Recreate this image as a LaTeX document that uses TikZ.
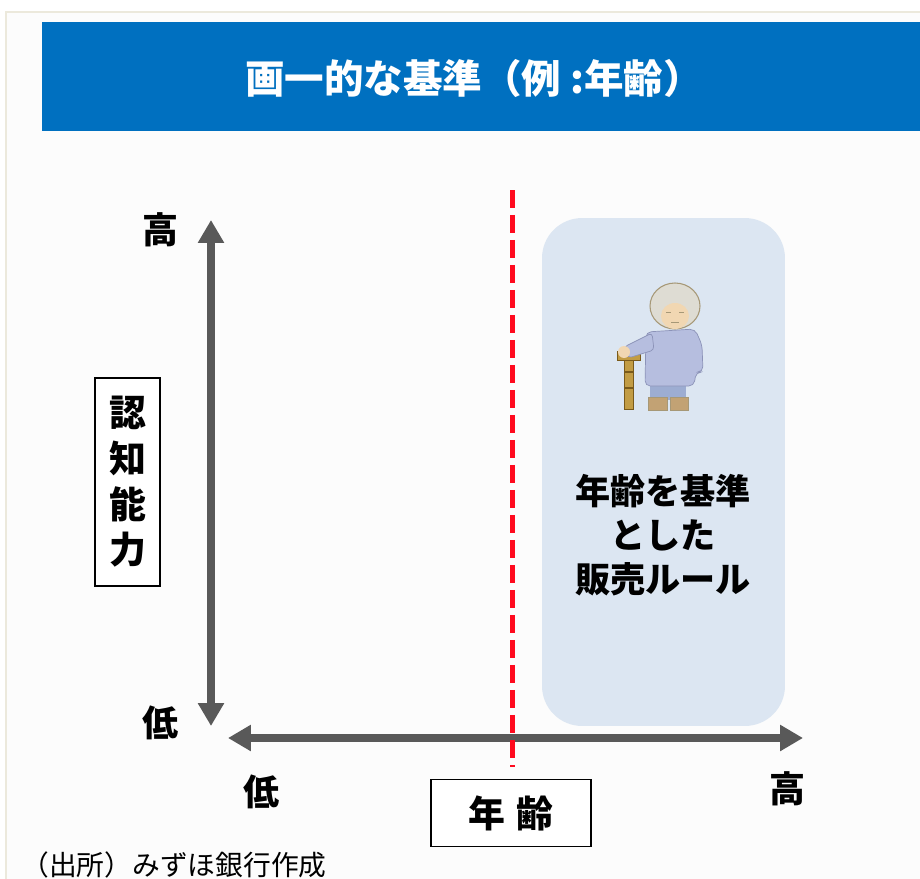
\documentclass[tikz,border=0pt]{standalone}
\usepackage{fontspec}
\setmainfont{Noto Sans CJK JP}
\usetikzlibrary{arrows.meta,positioning}

\definecolor{hdrblue}{HTML}{0070C0}
\definecolor{axisgray}{HTML}{595959}
\definecolor{rulebg}{HTML}{DCE6F2}
\definecolor{framebeige}{HTML}{ECE9DC}
\definecolor{cutred}{HTML}{FF0A1E}
% colours of the little figure
\definecolor{hairgray}{HTML}{DEDCD3}
\definecolor{hairline}{HTML}{A69877}
\definecolor{skin}{HTML}{F1D7B2}
\definecolor{blouse}{HTML}{B6BEDF}
\definecolor{blouseline}{HTML}{8C93B8}
\definecolor{pants}{HTML}{9DADD2}
\definecolor{shoe}{HTML}{C2A274}
\definecolor{cane}{HTML}{C29C44}
\definecolor{caneline}{HTML}{7A5A1A}

\begin{document}
\begin{tikzpicture}[x=0.02cm, y=-0.02cm,
  axis/.style={line width=0.16cm, draw=axisgray,
    {Triangle[length=0.46cm,width=0.5cm]}-{Triangle[length=0.46cm,width=0.5cm]}},
  lvl/.style={inner sep=0pt, font=\fontsize{20.5}{24}\selectfont\bfseries},
  lbl/.style={draw, line width=0.9pt, fill=white, align=center, inner sep=0pt,
    font=\fontsize{21}{26}\selectfont\bfseries}]

\useasboundingbox (0,0) rectangle (920,879);
\fill[white] (0,0) rectangle (920,879);
\draw[framebeige, line width=1.2pt, fill=black!1] (6,12) rectangle (940,900);

% header
\fill[hdrblue] (42,22) rectangle (920,131);
\node[text=white, font=\fontsize{22.5}{26}\selectfont\bfseries] (title) at (474,78) {画一的な基準（例 :年齢）};

% age-based sales rule area
\node[fill=rulebg, rounded corners=0.8cm, minimum width=4.86cm, minimum height=10.16cm] (rule) at (663.5,472) {};
\node[align=center, font=\fontsize{20}{25}\selectfont\bfseries] (ruletxt) at (663,535) {年齢を基準\\とした\\販売ルール};

% elderly figure
\filldraw[fill=cane, draw=caneline, line width=0.4pt] (624,356) rectangle (633,409);
\filldraw[fill=cane, draw=caneline, line width=0.4pt] (617,351) rectangle (640,360);
\foreach \y in {372,388} \draw[caneline, line width=0.6pt] (624,\y) -- (633,\y);
\fill[pants] (650,380) rectangle (686,400);
\filldraw[fill=shoe, draw=hairline, line width=0.3pt] (648,397) rectangle (667,410);
\filldraw[fill=shoe, draw=hairline, line width=0.3pt] (670,397) rectangle (688,410);
\filldraw[fill=blouse, draw=blouseline, line width=0.4pt, rounded corners=3pt]
  (646,332) -- (695,329) -- (702,345) -- (703,372) -- (696,372) -- (694,386) -- (645,386) -- cycle;
\filldraw[fill=blouse, draw=blouseline, line width=0.4pt, rounded corners=2pt]
  (652,333) -- (624,347) -- (628,358) -- (654,350) -- cycle;
\fill[skin] (624,352) circle (6);
\filldraw[fill=hairgray, draw=hairline, line width=0.6pt] (675,306) ellipse [x radius=25, y radius=23];
\fill[skin] (675,316) ellipse [x radius=14, y radius=13];
\draw[hairline, line width=0.5pt] (666,312) -- (671,312) (679,312) -- (684,312) (671,322) -- (679,322);

% axes
\coordinate (vtop) at (211,220);
\coordinate (vbot) at (211,726);
\coordinate (hleft) at (228,738);
\coordinate (hright) at (803,738);
\draw[axis] (vtop) -- (vbot);
\draw[axis] (hleft) -- (hright);

% age threshold
\coordinate (cuttop) at (512,190);
\coordinate (cutbot) at (512,767);
\draw[cutred, line width=0.1cm, dash pattern=on 0.36cm off 0.14cm] (cuttop) -- (cutbot);

\node[lvl] (vhigh) at (161,230) {高};
\node[lvl] (vlow) at (161,723) {低};
\node[lvl] (hlow) at (262,792) {低};
\node[lvl] (hhigh) at (788,789) {高};

\node[lbl, minimum width=1.3cm, minimum height=4.16cm] (ability) at (127.5,482) {認\\知\\能\\力};
\node[lbl, minimum width=3.2cm, minimum height=1.34cm] (age) at (511,813) {年\hspace{0.3em}齢};

\node[anchor=west, inner sep=0pt, font=\fontsize{15.8}{18}\selectfont] (src) at (21,865) {（出所）みずほ銀行作成};
\end{tikzpicture}
\end{document}
